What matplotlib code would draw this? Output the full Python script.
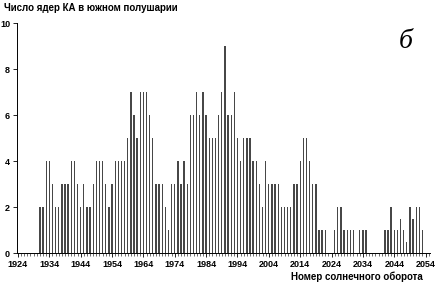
import matplotlib
matplotlib.use('Agg')
import matplotlib.pyplot as plt
import numpy as np

# years of the bars (one bar per year)
years = np.arange(1931, 2054)

counts = [
    2, 2, 4, 4, 3, 2, 2, 3, 3, 3,
    4, 4, 3, 2, 3, 2, 2, 3, 4, 4,
    4, 3, 2, 3, 4, 4, 4, 4, 5, 7,
    6, 5, 7, 7, 7, 6, 5, 3, 3, 3,
    2, 1, 3, 3, 4, 3, 4, 3, 6, 6,
    7, 6, 7, 6, 5, 5, 5, 6, 7, 9,
    6, 6, 7, 5, 4, 5, 5, 5, 4, 4,
    3, 2, 4, 3, 3, 3, 3, 2, 2, 2,
    2, 3, 3, 4, 5, 5, 4, 3, 3, 1,
    1, 1, 0, 0, 1, 2, 2, 1, 1, 1,
    1, 0, 1, 1, 1, 0, 0, 0, 0, 0,
    1, 1, 2, 1, 1, 1.5, 1, 0.5, 2, 1.5,
    2, 2, 1,
]

x_ticks = np.arange(1924, 2055, 10)
y_ticks = [0, 2, 4, 6, 8, 10]

plt.rcParams['font.family'] = ['Liberation Sans', 'DejaVu Sans']

fig = plt.figure(figsize=(4.36, 2.85), dpi=100)
ax = fig.add_axes([0.039, 0.112, 0.948, 0.807])

ax.bar(years, counts, width=0.42, color='#474747', linewidth=0)

ax.set_xlim(1923.7, 2055.5)
ax.set_ylim(0, 10)
ax.set_xticks(x_ticks)
ax.set_xticks(np.arange(1924, 2056), minor=True)
ax.set_yticks(y_ticks)
ax.set_xticklabels([str(t) for t in x_ticks], fontsize=6.5, fontweight='bold')
ax.set_yticklabels([str(t) for t in y_ticks], fontsize=6.5, fontweight='bold')
ax.tick_params(axis='x', which='major', length=3, width=0.6, pad=2)
ax.tick_params(axis='x', which='minor', length=2, width=0.4)
ax.tick_params(axis='y', length=3, width=0.6, pad=2)

for side in ['top', 'right']:
    ax.spines[side].set_visible(False)
for side in ['left', 'bottom']:
    ax.spines[side].set_linewidth(0.7)

fig.text(0.009, 0.972, 'Число ядер КА в южном полушарии', fontsize=7,
         fontweight='bold', ha='left', va='center')
fig.text(0.97, 0.028, 'Номер солнечного оборота', fontsize=7,
         fontweight='bold', ha='right', va='center')
ax.text(0.94, 0.92, 'б', transform=ax.transAxes, fontsize=20,
        family='Liberation Serif', style='italic', ha='center', va='center')

fig.savefig('out.png', dpi=100)
